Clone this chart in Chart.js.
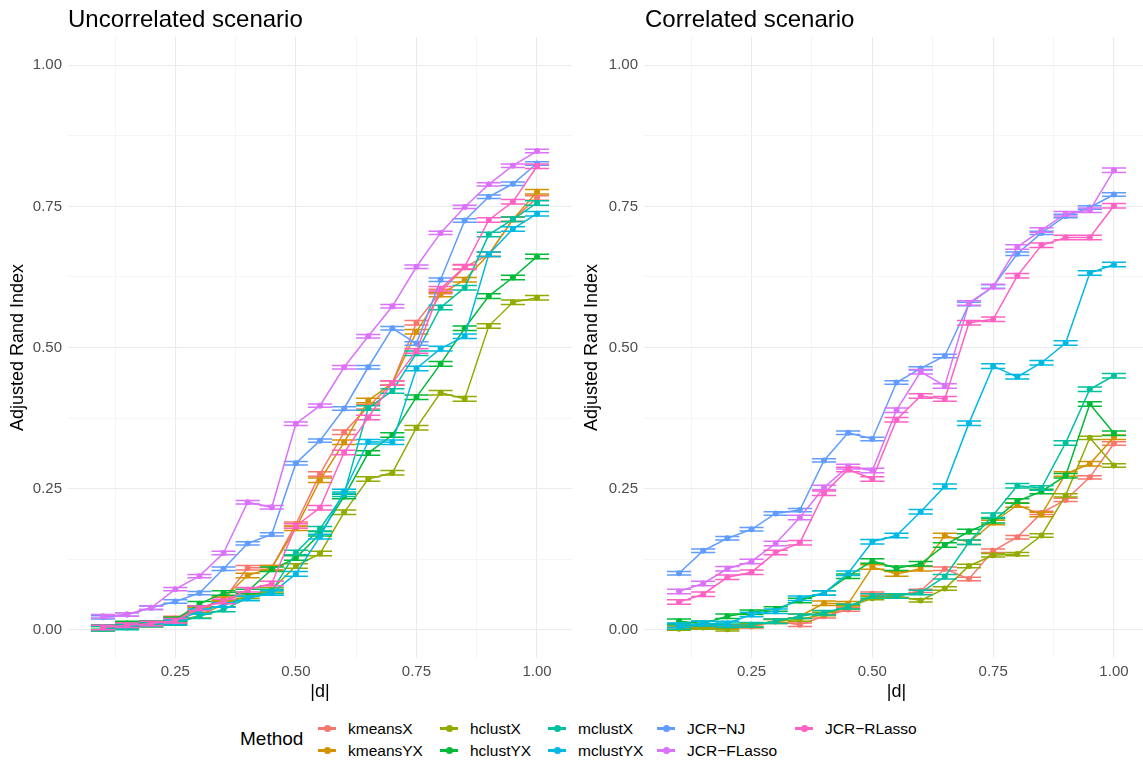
<!DOCTYPE html>
<html>
<head>
<meta charset="utf-8">
<script src="https://cdn.jsdelivr.net/npm/chart.js@4.4.1/dist/chart.umd.min.js"></script>
<style>
  html, body { margin: 0; padding: 0; background: #fff; width: 1143px; height: 761px; overflow: hidden; position: relative;
    font-family: "Liberation Sans", Arial, sans-serif; }
  .panel { position: absolute; top: 0; height: 710px; }
  .ptitle { position: absolute; top: 5px; font-size: 24px; line-height: 28px; color: #000; white-space: nowrap; }
  .legend-title { position: absolute; left: 240px; top: 728px; font-size: 19px; line-height: 22px; color: #000; }
  .item { position: absolute; height: 20px; font-size: 15.5px; line-height: 20px; color: #000; white-space: nowrap; }
  .key { position: absolute; left: 0; top: 8px; width: 18px; height: 3px; }
  .dot { position: absolute; left: 6px; top: -2px; width: 7px; height: 7px; border-radius: 50%; }
  .lab { position: absolute; left: 30px; top: 0; }
</style>
</head>
<body>
<div class="panel" id="leftBox" style="left:0; width:580px;"><canvas id="leftChart"></canvas></div>
<div class="panel" id="rightBox" style="left:572px; width:590px;"><canvas id="rightChart"></canvas></div>
<div class="ptitle" style="left:68px;">Uncorrelated scenario</div>
<div class="ptitle" style="left:645px;">Correlated scenario</div>
<div class="legend-title">Method</div>
<div id="legend"></div>

<script>
// |d| grid shared by both scenarios
const dValues = [0.10, 0.15, 0.20, 0.25, 0.30, 0.35, 0.40, 0.45, 0.50, 0.55, 0.60, 0.65, 0.70, 0.75, 0.80, 0.85, 0.90, 0.95, 1.00];

const methods = ["kmeansX", "kmeansYX", "hclustX", "hclustYX", "mclustX", "mclustYX", "JCR\u2212NJ", "JCR\u2212FLasso", "JCR\u2212RLasso"];
const methodColors = ["#F8766D", "#D39200", "#93AA00", "#00BA38", "#00C19F", "#00B9E3", "#619CFF", "#DB72FB", "#FF61C3"];

// Uncorrelated scenario: mean adjusted Rand index per |d|
const uncKmeansX   = [0.003, 0.009, 0.012, 0.020, 0.038, 0.053, 0.110, 0.110, 0.187, 0.276, 0.350, 0.395, 0.437, 0.544, 0.599, 0.642, 0.665, 0.727, 0.765];
const uncKmeansYX  = [0.003, 0.008, 0.010, 0.018, 0.035, 0.056, 0.096, 0.110, 0.180, 0.265, 0.332, 0.406, 0.437, 0.528, 0.594, 0.620, 0.665, 0.727, 0.776];
const uncHclustX   = [0.002, 0.006, 0.009, 0.015, 0.025, 0.045, 0.060, 0.071, 0.113, 0.135, 0.208, 0.267, 0.278, 0.358, 0.420, 0.409, 0.538, 0.580, 0.588];
const uncHclustYX  = [0.005, 0.011, 0.012, 0.018, 0.046, 0.065, 0.068, 0.107, 0.127, 0.170, 0.236, 0.313, 0.345, 0.412, 0.471, 0.534, 0.591, 0.624, 0.661];
const uncMclustX   = [0.002, 0.004, 0.010, 0.012, 0.024, 0.036, 0.056, 0.068, 0.137, 0.179, 0.240, 0.393, 0.423, 0.490, 0.571, 0.606, 0.700, 0.727, 0.756];
const uncMclustYX  = [0.004, 0.007, 0.010, 0.014, 0.033, 0.044, 0.056, 0.065, 0.099, 0.165, 0.245, 0.333, 0.332, 0.463, 0.498, 0.520, 0.665, 0.710, 0.737];
const uncJcrNJ     = [0.022, 0.027, 0.039, 0.050, 0.065, 0.108, 0.153, 0.169, 0.295, 0.335, 0.392, 0.465, 0.534, 0.507, 0.620, 0.725, 0.767, 0.790, 0.826];
const uncJcrFLasso = [0.024, 0.027, 0.039, 0.072, 0.095, 0.136, 0.226, 0.217, 0.365, 0.397, 0.465, 0.520, 0.573, 0.643, 0.703, 0.749, 0.789, 0.822, 0.848];
const uncJcrRLasso = [0.004, 0.008, 0.011, 0.016, 0.038, 0.050, 0.071, 0.082, 0.184, 0.216, 0.314, 0.376, 0.437, 0.494, 0.604, 0.643, 0.726, 0.758, 0.821];

// Correlated scenario
const corKmeansX   = [0.004, 0.006, 0.006, 0.006, 0.015, 0.009, 0.024, 0.036, 0.064, 0.060, 0.069, 0.108, 0.090, 0.140, 0.164, 0.207, 0.230, 0.270, 0.330];
const corKmeansYX  = [0.004, 0.006, 0.005, 0.008, 0.015, 0.024, 0.047, 0.046, 0.111, 0.099, 0.108, 0.167, 0.155, 0.190, 0.221, 0.204, 0.276, 0.294, 0.341];
const corHclustX   = [0.002, 0.004, 0.001, 0.008, 0.015, 0.018, 0.028, 0.040, 0.056, 0.060, 0.052, 0.073, 0.113, 0.132, 0.134, 0.167, 0.238, 0.340, 0.291];
const corHclustYX  = [0.015, 0.011, 0.024, 0.031, 0.037, 0.052, 0.065, 0.095, 0.122, 0.109, 0.117, 0.150, 0.174, 0.193, 0.228, 0.245, 0.273, 0.400, 0.348];
const corMclustX   = [0.005, 0.011, 0.008, 0.009, 0.015, 0.024, 0.030, 0.041, 0.060, 0.060, 0.066, 0.094, 0.155, 0.203, 0.255, 0.251, 0.331, 0.426, 0.450];
const corMclustYX  = [0.008, 0.011, 0.011, 0.027, 0.033, 0.056, 0.065, 0.100, 0.156, 0.167, 0.209, 0.254, 0.366, 0.467, 0.448, 0.473, 0.508, 0.632, 0.647];
const corJcrNJ     = [0.100, 0.140, 0.162, 0.178, 0.206, 0.212, 0.300, 0.349, 0.338, 0.438, 0.463, 0.485, 0.577, 0.608, 0.666, 0.703, 0.733, 0.748, 0.771];
const corJcrFLasso = [0.068, 0.082, 0.108, 0.121, 0.153, 0.199, 0.252, 0.289, 0.282, 0.389, 0.457, 0.432, 0.579, 0.608, 0.678, 0.708, 0.737, 0.743, 0.814];
const corJcrRLasso = [0.049, 0.063, 0.093, 0.102, 0.137, 0.154, 0.242, 0.284, 0.267, 0.372, 0.414, 0.409, 0.544, 0.550, 0.627, 0.681, 0.695, 0.695, 0.751];

// Standard-error half heights per method
const uncErr = [0.004, 0.004, 0.004, 0.004, 0.004, 0.004, 0.003, 0.003, 0.004];
const corErr = [0.003, 0.004, 0.003, 0.004, 0.004, 0.004, 0.003, 0.004, 0.004];

// Axis tick positions (labelled majors plus unlabelled minors)
const xTicks = [0.125, 0.25, 0.375, 0.5, 0.625, 0.75, 0.875, 1.0];
const yTicks = [0, 0.125, 0.25, 0.375, 0.5, 0.625, 0.75, 0.875, 1.0];

const uncSeries = [uncKmeansX, uncKmeansYX, uncHclustX, uncHclustYX, uncMclustX, uncMclustYX, uncJcrNJ, uncJcrFLasso, uncJcrRLasso];
const corSeries = [corKmeansX, corKmeansYX, corHclustX, corHclustYX, corMclustX, corMclustYX, corJcrNJ, corJcrFLasso, corJcrRLasso];

const capHalf = 0.025;   // error bar cap half-width in |d| units

const errorBarPlugin = {
  id: 'errorBars',
  afterDatasetDraw(chart, args) {
    const ds = chart.data.datasets[args.index];
    const xs = chart.scales.x, ys = chart.scales.y;
    const ctx = chart.ctx;
    ctx.save();
    ctx.strokeStyle = ds.borderColor;
    ctx.lineWidth = 1.5;
    ds.data.forEach(p => {
      const xc = xs.getPixelForValue(p.x);
      const xl = xs.getPixelForValue(p.x - capHalf);
      const xr = xs.getPixelForValue(p.x + capHalf);
      const yt = ys.getPixelForValue(p.y + ds.errHalf);
      const yb = ys.getPixelForValue(p.y - ds.errHalf);
      ctx.beginPath();
      ctx.moveTo(xl, yt); ctx.lineTo(xr, yt);
      ctx.moveTo(xl, yb); ctx.lineTo(xr, yb);
      ctx.moveTo(xc, yt); ctx.lineTo(xc, yb);
      ctx.stroke();
    });
    ctx.restore();
  }
};

function isMajor(v) {
  return Math.abs(v / 0.25 - Math.round(v / 0.25)) < 1e-6;
}

function buildDatasets(series, errs) {
  return series.map((vals, i) => ({
    label: methods[i],
    data: dValues.map((d, j) => ({ x: d, y: vals[j] })),
    borderColor: methodColors[i],
    backgroundColor: methodColors[i],
    borderWidth: 1.5,
    pointRadius: 3,
    pointHoverRadius: 3,
    pointBorderWidth: 0,
    tension: 0,
    errHalf: errs[i],
    order: series.length - i
  }));
}

function gridStyle() {
  return {
    drawTicks: false,
    color: ctx => isMajor(ctx.tick.value) ? '#EBEBEB' : '#F3F3F3',
    lineWidth: ctx => isMajor(ctx.tick.value) ? 1.1 : 0.8
  };
}

function makeChart(canvasId, series, errs, yAxisWidth, yTitlePad, padRight) {
  return new Chart(document.getElementById(canvasId), {
    type: 'line',
    data: { datasets: buildDatasets(series, errs) },
    plugins: [errorBarPlugin],
    options: {
      responsive: true,
      maintainAspectRatio: false,
      animation: false,
      events: [],
      layout: { padding: { top: 37, right: padRight, left: 0, bottom: 0 } },
      plugins: { legend: { display: false }, tooltip: { enabled: false }, title: { display: false } },
      scales: {
        x: {
          type: 'linear',
          min: 0.0275,
          max: 1.0725,
          border: { display: false },
          grid: gridStyle(),
          afterBuildTicks: axis => { axis.ticks = xTicks.map(v => ({ value: v })); },
          afterFit: axis => { axis.height = 52; },
          ticks: {
            autoSkip: false, maxRotation: 0, padding: 5,
            color: '#4D4D4D',
            font: { family: '"Liberation Sans", Arial, sans-serif', size: 15 },
            callback: v => isMajor(v) ? v.toFixed(2) : ''
          },
          title: {
            display: true, text: '|d|', color: '#000',
            font: { family: '"Liberation Sans", Arial, sans-serif', size: 18 },
            padding: { top: 0, bottom: 7 }
          }
        },
        y: {
          type: 'linear',
          min: -0.05,
          max: 1.05,
          border: { display: false },
          grid: gridStyle(),
          afterBuildTicks: axis => { axis.ticks = yTicks.map(v => ({ value: v })); },
          afterFit: axis => { axis.width = yAxisWidth; },
          ticks: {
            autoSkip: false, padding: 6,
            color: '#4D4D4D',
            font: { family: '"Liberation Sans", Arial, sans-serif', size: 15 },
            callback: v => isMajor(v) ? v.toFixed(2) : ''
          },
          title: {
            display: true, text: 'Adjusted Rand Index', color: '#000',
            font: { family: '"Liberation Sans", Arial, sans-serif', size: 18 },
            padding: { top: yTitlePad, bottom: 0 }
          }
        }
      }
    }
  });
}

makeChart('leftChart', uncSeries, uncErr, 68, 7, 8);
makeChart('rightChart', corSeries, corErr, 72, 9, 13);

// Legend: two rows, five columns
const legendCols = [318, 440, 548, 657, 795];
const legendRows = [719, 741];
const legend = document.getElementById('legend');
methods.forEach((m, i) => {
  const col = Math.floor(i / 2), row = i % 2;
  const item = document.createElement('div');
  item.className = 'item';
  item.style.left = legendCols[col] + 'px';
  item.style.top = legendRows[row] + 'px';
  item.innerHTML = '<div class="key" style="background:' + methodColors[i] + '"><div class="dot" style="background:' +
    methodColors[i] + '"></div></div><div class="lab"></div>';
  item.querySelector('.lab').textContent = m;
  legend.appendChild(item);
});
</script>
</body>
</html>
